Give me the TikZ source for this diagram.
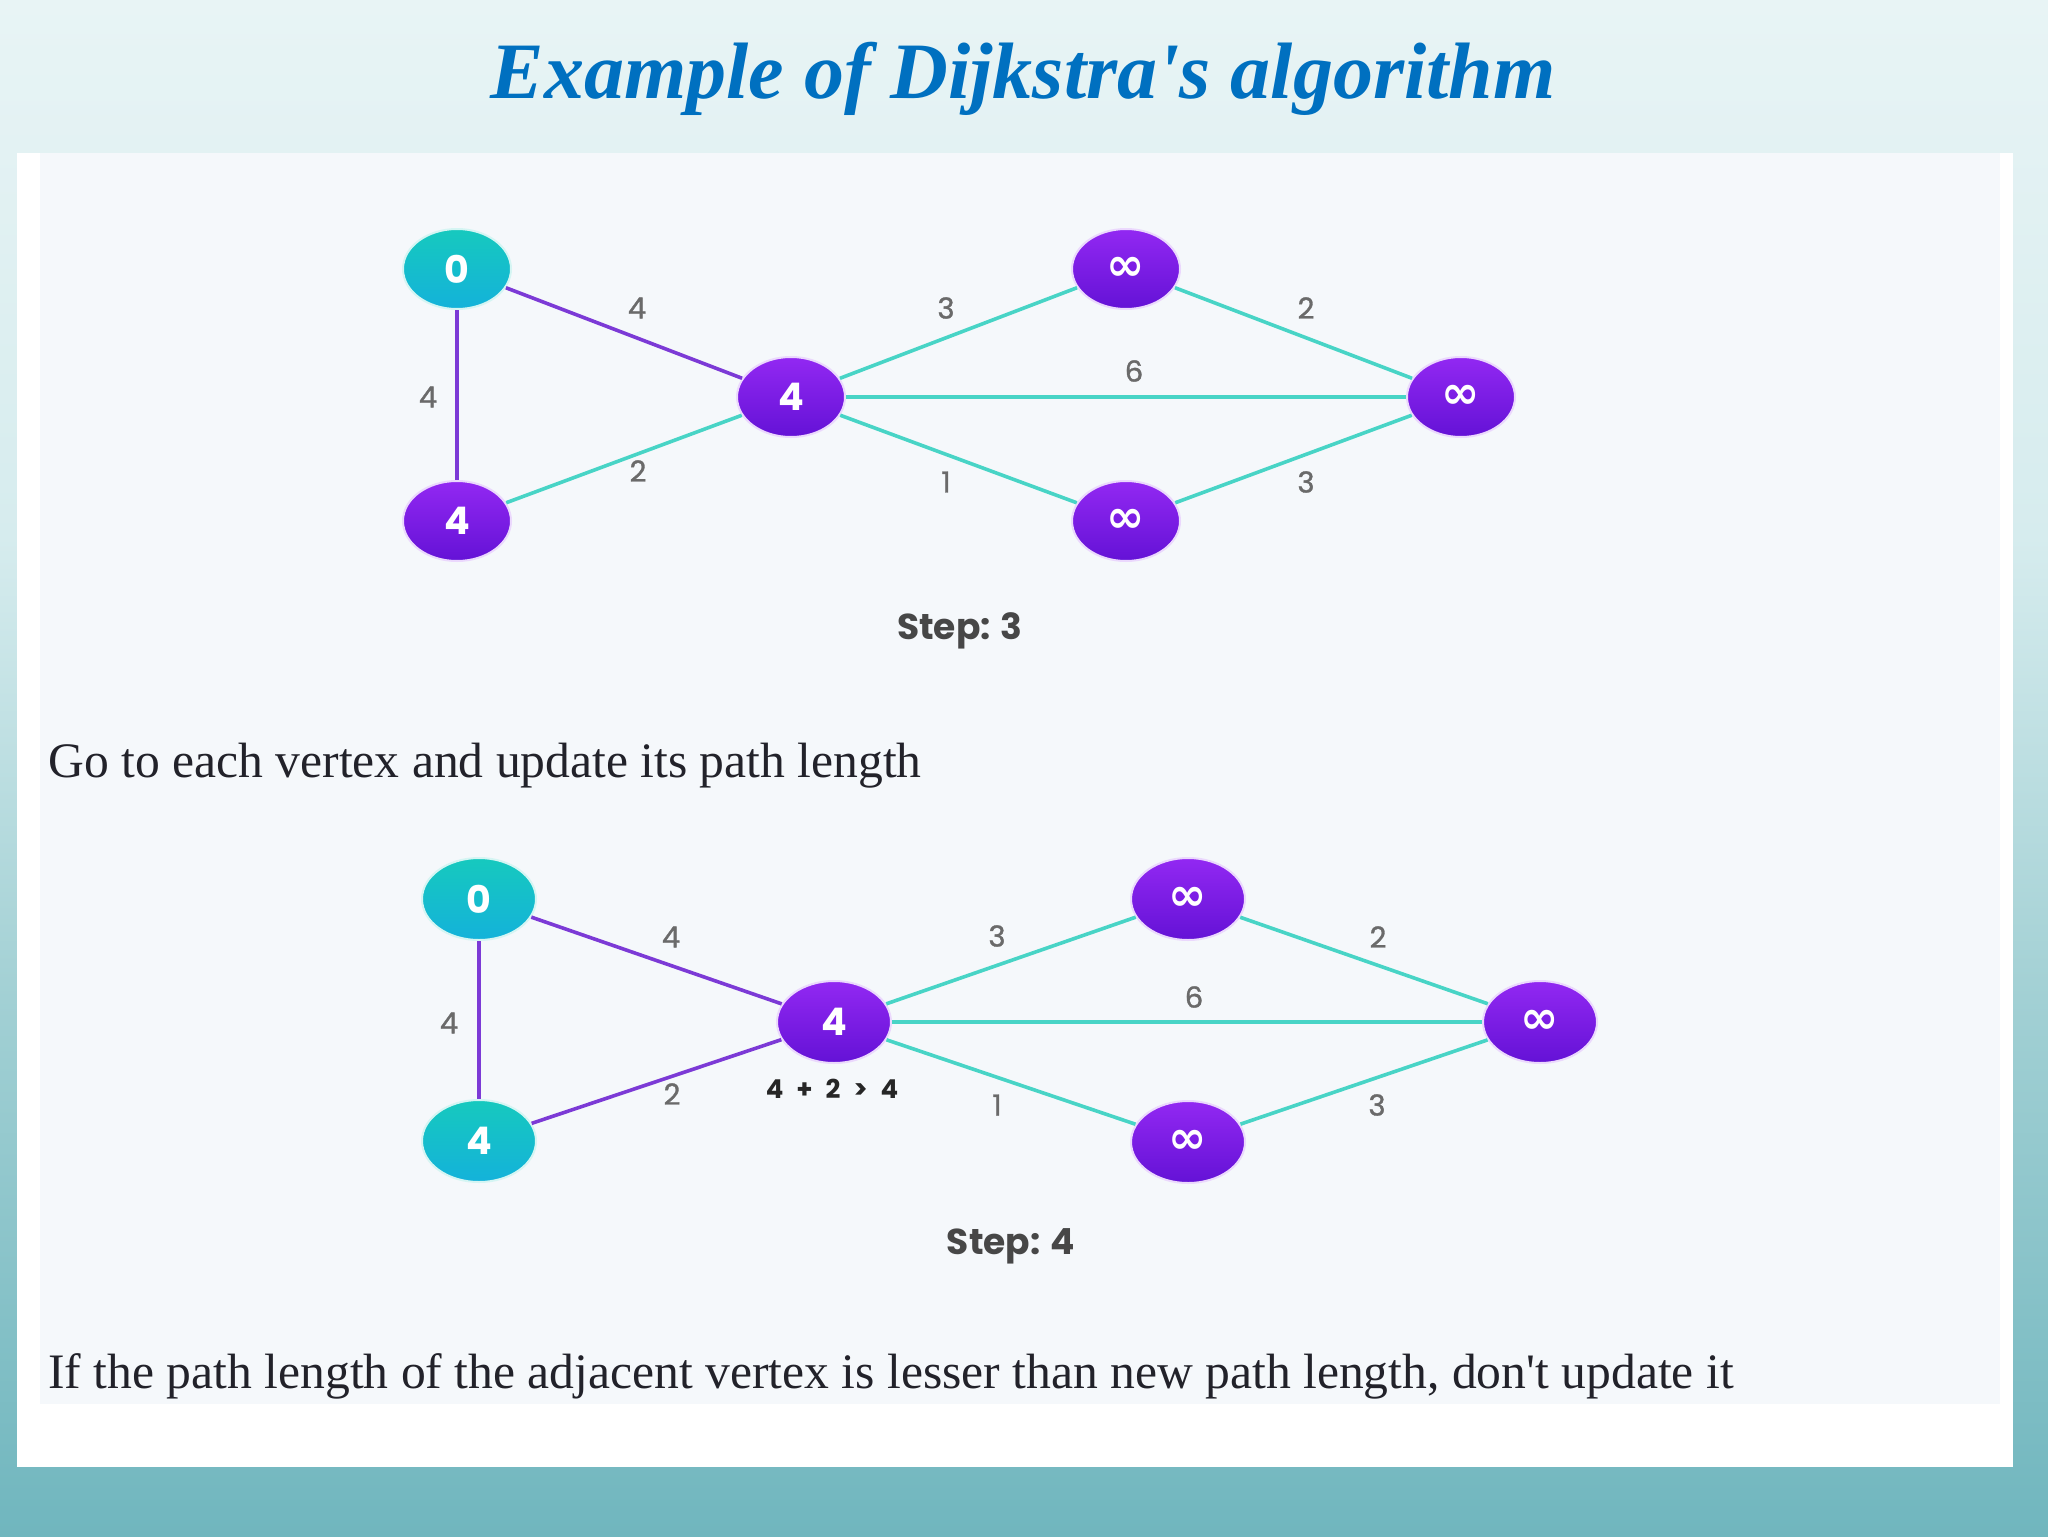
\documentclass[tikz,border=0pt]{standalone}
\usepackage{fontspec}
\setmainfont{Liberation Serif}
\newfontfamily\popfont{Poppins}
\newfontfamily\popmed[FakeBold=1.2]{Poppins}
\newfontfamily\inffont{DejaVu Sans}
\usetikzlibrary{shapes.geometric}
\definecolor{titleblue}{HTML}{0070C0}
\definecolor{bgtop}{HTML}{E8F4F5}
\definecolor{bgup}{HTML}{D6ECEE}
\definecolor{bgmid}{HTML}{A2D0D4}
\definecolor{bgbot}{HTML}{70B6BE}
\definecolor{panelc}{HTML}{F5F8FB}
\definecolor{purtop}{HTML}{9228F2}
\definecolor{purbot}{HTML}{6412D6}
\definecolor{teatop}{HTML}{16C9BE}
\definecolor{teabot}{HTML}{14B2DA}
\definecolor{edgepur}{HTML}{7C3AD6}
\definecolor{edgetea}{HTML}{48D4C6}
\definecolor{lblgray}{HTML}{6A6A6A}
\definecolor{stepgray}{HTML}{474747}
\definecolor{bodytext}{HTML}{22222A}
\pgfdeclareverticalshading{bgsh}{100bp}{color(0bp)=(bgbot); color(25bp)=(bgbot); color(42.5bp)=(bgmid); color(57.5bp)=(bgup); color(75bp)=(bgtop); color(100bp)=(bgtop)}
\tikzset{
  vnode/.style={ellipse, inner sep=0pt, minimum width=54pt, minimum height=40pt,
    text=white, font=\popfont\bfseries\fontsize{19}{19}\selectfont},
  vnodeb/.style={vnode, minimum width=57pt, minimum height=41pt},
  purn/.style={top color=purtop, bottom color=purbot, draw=purtop!18, line width=1pt},
  tean/.style={top color=teatop, bottom color=teabot, draw=teatop!18, line width=1pt},
  infn/.style={font=\inffont\bfseries\fontsize{23}{23}\selectfont},
  pedge/.style={draw=edgepur, line width=1.8pt},
  tedge/.style={draw=edgetea, line width=1.8pt},
  elabel/.style={inner sep=0pt, text=lblgray, font=\popmed\fontsize{14.5}{14.5}\selectfont},
  steplabel/.style={inner sep=0pt, text=stepgray, font=\popfont\bfseries\fontsize{18}{18}\selectfont},
  bodyline/.style={inner sep=0pt, anchor=base west, text=bodytext, font=\fontsize{24.8}{24.8}\selectfont},
}
\newcommand{\infsym}{\raisebox{-1.5pt}{∞}}
\begin{document}
\begin{tikzpicture}[x=0.5pt,y=-0.5pt]
\useasboundingbox (0,0) rectangle (2048,1536);
% background
\shade[shading=bgsh] (0,0) rectangle (2048,1536);
% panel
\fill[white] (17,153) rectangle (2013,1467);
\fill[panelc] (40,153) rectangle (2000,1404);
% title
\node[inner sep=0pt, anchor=base, text=titleblue, font=\bfseries\itshape\fontsize{40}{40}\selectfont] (title) at (1023,98) {Example of Dijkstra\textquotesingle s algorithm};

% ---------- graph 1 ----------
\node[vnode,tean] (a1) at (457,269) {0};
\node[vnode,purn] (b1) at (457,521) {4};
\node[vnode,purn] (c1) at (791,397) {4};
\node[vnode,purn,infn] (d1) at (1126,269) {\infsym};
\node[vnode,purn,infn] (e1) at (1126,521) {\infsym};
\node[vnode,purn,infn] (f1) at (1461,397) {\infsym};
\draw[pedge] (a1) -- (c1);
\draw[pedge] (a1) -- (b1);
\draw[tedge] (b1) -- (c1);
\draw[tedge] (c1) -- (d1);
\draw[tedge] (c1) -- (f1);
\draw[tedge] (c1) -- (e1);
\draw[tedge] (d1) -- (f1);
\draw[tedge] (e1) -- (f1);
\node[elabel] (l1ac) at (637,308) {4};
\node[elabel] (l1ab) at (428,397) {4};
\node[elabel] (l1bc) at (638,471) {2};
\node[elabel] (l1cd) at (946,308) {3};
\node[elabel] (l1cf) at (1134,371) {6};
\node[elabel] (l1ce) at (946,482) {1};
\node[elabel] (l1df) at (1306,308) {2};
\node[elabel] (l1ef) at (1306,482) {3};
\node[steplabel] (step3) at (960,631) {Step: 3};

\node[bodyline] (txt1) at (48,777) {Go to each vertex and update its path length};

% ---------- graph 2 ----------
\node[vnodeb,tean] (a2) at (479,899) {0};
\node[vnodeb,tean] (b2) at (479,1141) {4};
\node[vnodeb,purn] (c2) at (834,1022) {4};
\node[vnodeb,purn,infn] (d2) at (1188,899) {\infsym};
\node[vnodeb,purn,infn] (e2) at (1188,1142) {\infsym};
\node[vnodeb,purn,infn] (f2) at (1540,1022) {\infsym};
\draw[pedge] (a2) -- (c2);
\draw[pedge] (a2) -- (b2);
\draw[pedge] (b2) -- (c2);
\draw[tedge] (c2) -- (d2);
\draw[tedge] (c2) -- (f2);
\draw[tedge] (c2) -- (e2);
\draw[tedge] (d2) -- (f2);
\draw[tedge] (e2) -- (f2);
\node[elabel] (l2ac) at (671,937) {4};
\node[elabel] (l2ab) at (449,1023) {4};
\node[elabel] (l2bc) at (672,1094) {2};
\node[elabel] (l2cd) at (997,936) {3};
\node[elabel] (l2cf) at (1194,997) {6};
\node[elabel] (l2ce) at (997,1105) {1};
\node[elabel] (l2df) at (1378,937) {2};
\node[elabel] (l2ef) at (1377,1105) {3};
\node[inner sep=0pt, text=black!85, font=\popfont\bfseries\fontsize{13}{13}\selectfont] (calc) at (832,1089) {4\hspace{0.5em}+\hspace{0.5em}2\hspace{0.5em}>\hspace{0.5em}4};
\node[steplabel] (step4) at (1011,1246) {Step: 4};

\node[bodyline] (txt2) at (48,1388) {If the path length of the adjacent vertex is lesser than new path length, don\textquotesingle t update it};
\end{tikzpicture}
\end{document}
